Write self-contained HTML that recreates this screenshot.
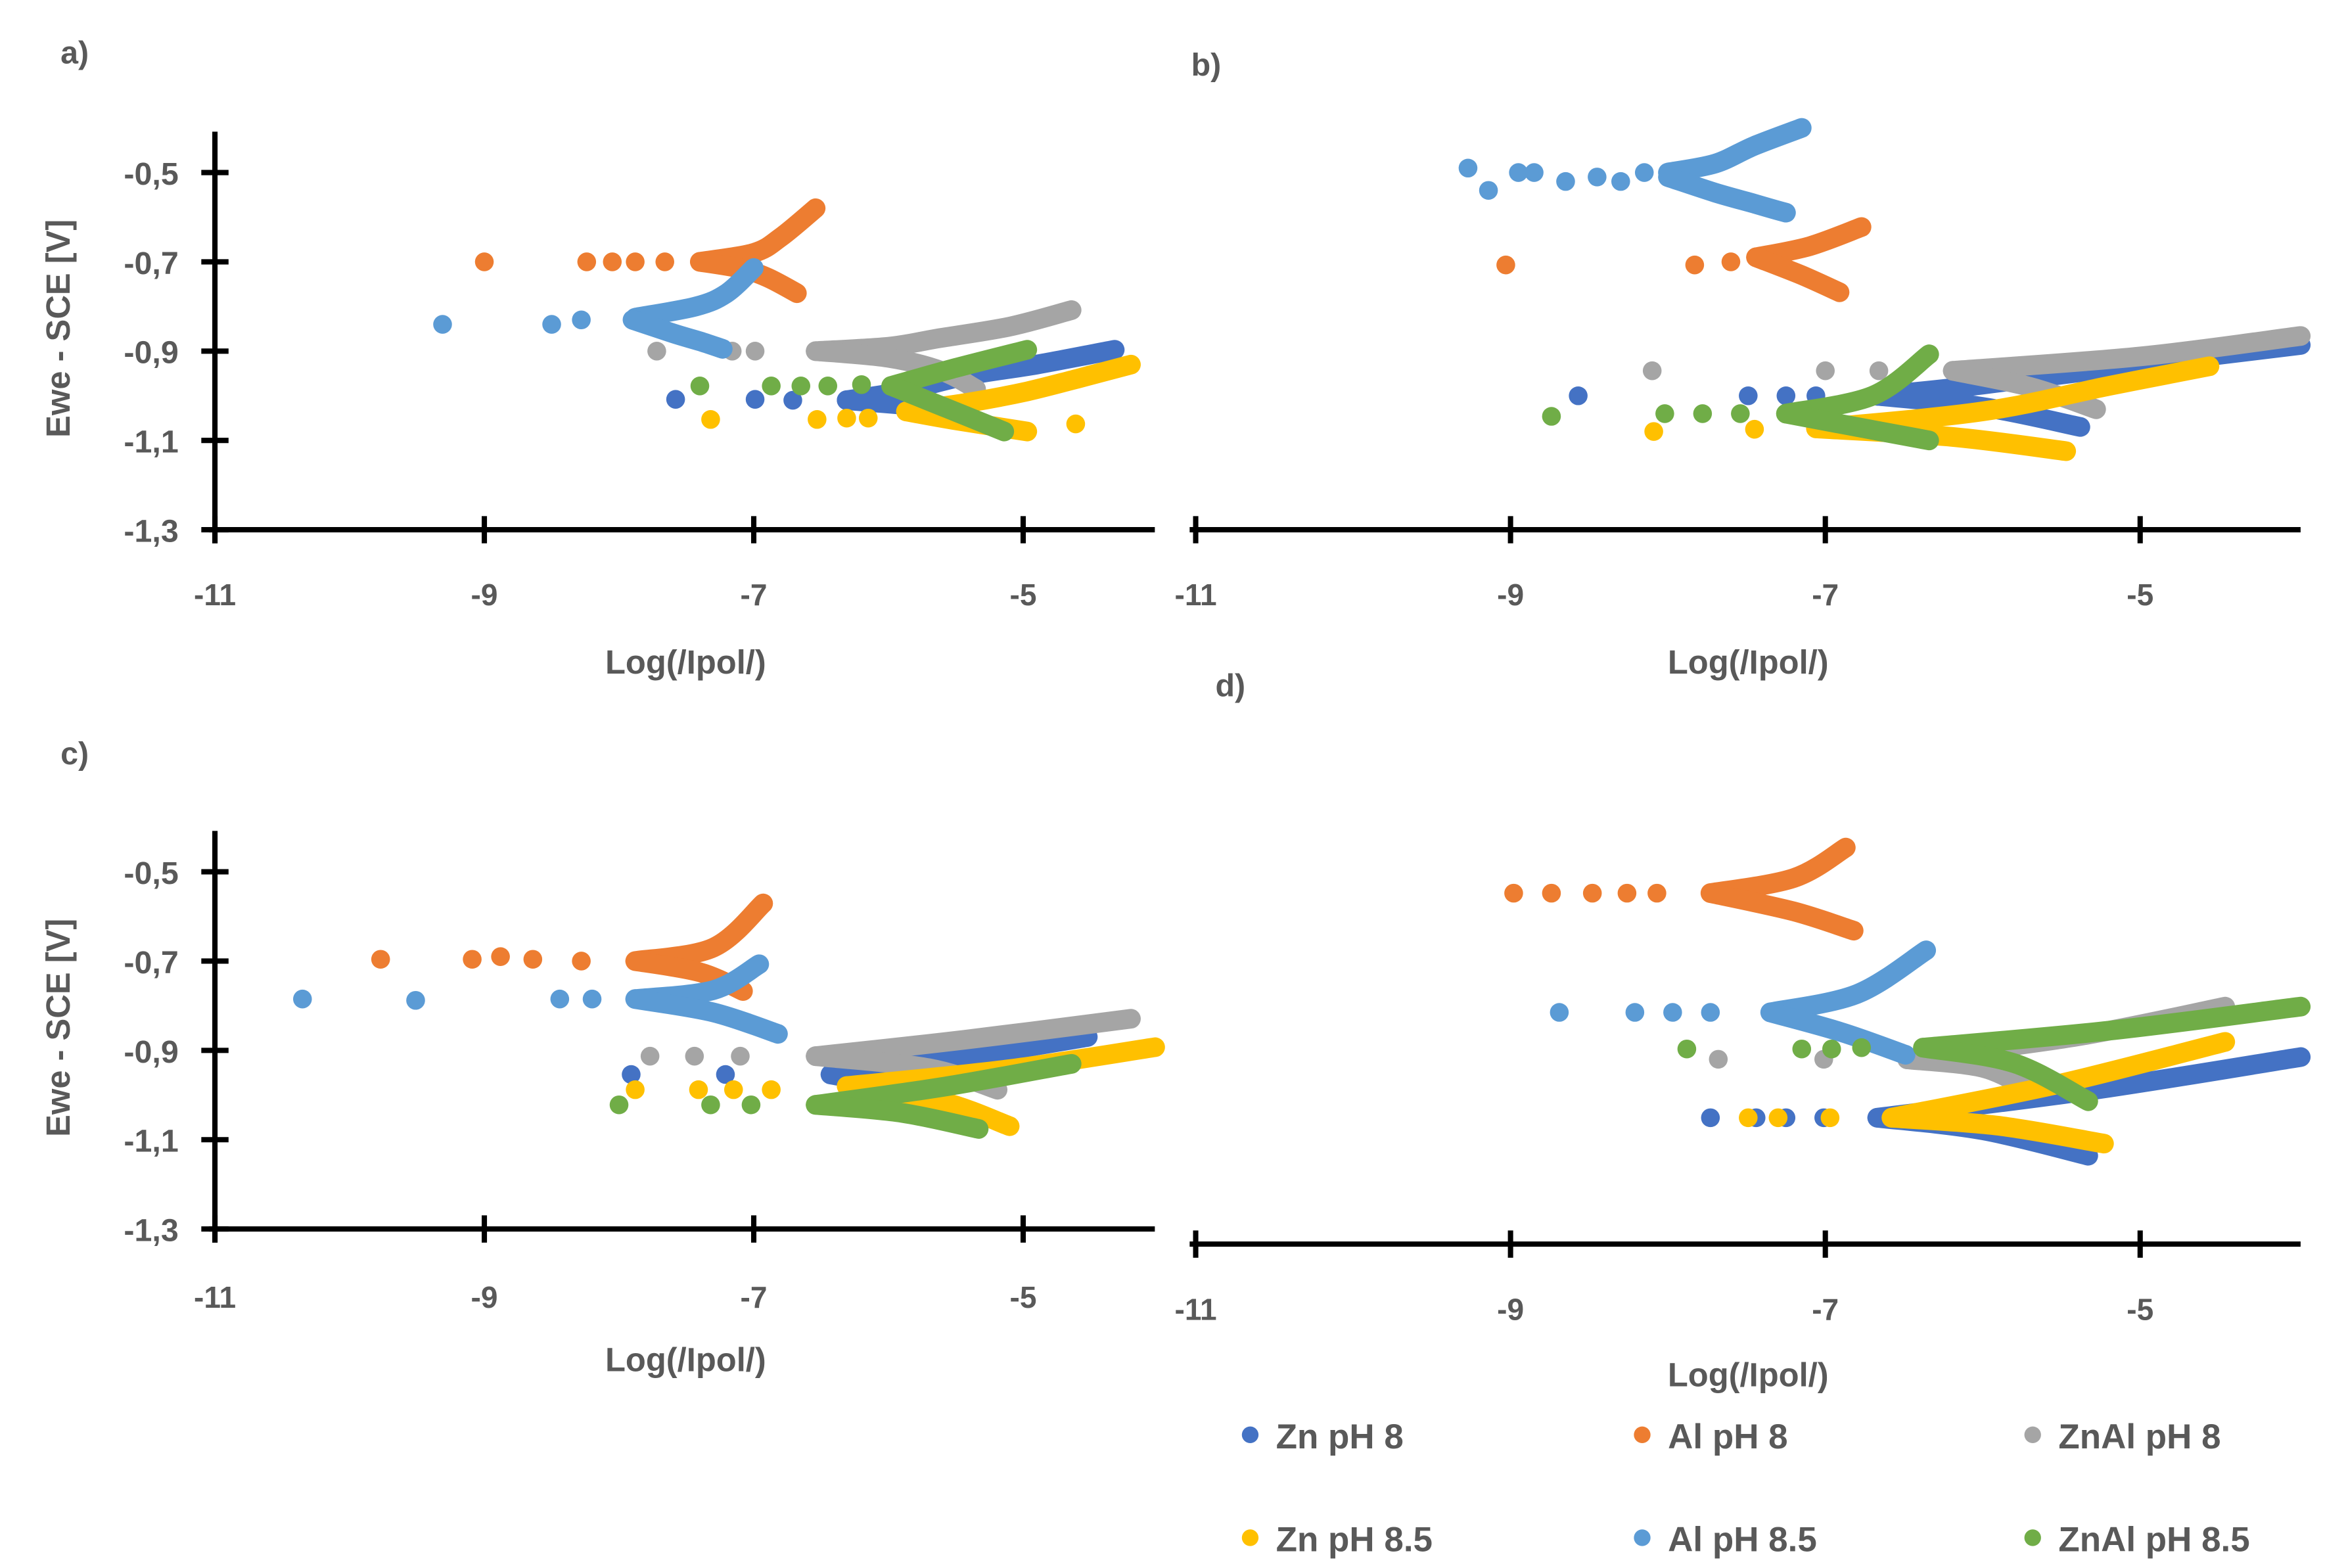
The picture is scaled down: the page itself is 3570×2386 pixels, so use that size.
<!DOCTYPE html>
<html><head><meta charset="utf-8"><style>
html,body{margin:0;padding:0;background:#fff;}
svg{display:block;}
text{font-family:"Liberation Sans",sans-serif;font-weight:bold;fill:#595959;}
</style></head><body>
<svg id="fig" width="3570" height="2386" viewBox="0 0 1550 1036" preserveAspectRatio="none" xmlns="http://www.w3.org/2000/svg">
<g id="axes"></g><g id="marks"></g><g id="legend"></g>
</svg>
<script>
// ---- data: each series = [sparse points, anodic branch, cathodic branch] of [log|I|, E] ----
const xTicks = [-11, -9, -7, -5];
const yTicks = [-0.5, -0.7, -0.9, -1.1, -1.3];
const seriesNames = ["Zn pH 8","Al pH 8","ZnAl pH 8","Zn pH 8.5","Al pH 8.5","ZnAl pH 8.5"];
const seriesColors = ["#4472C4","#ED7D31","#A5A5A5","#FFC000","#5B9BD5","#70AD47"];

const aZn8 = [[[-7.58,-1.008],[-6.99,-1.008],[-6.71,-1.01]],[[-6.31,-1.01],[-5.9,-0.99],[-5.42,-0.955],[-4.9,-0.93],[-4.32,-0.897]],[[-6.31,-1.01],[-5.9,-1.02],[-5.5,-1.03]]];
const aAl8 = [[[-9,-0.70],[-8.24,-0.70],[-8.05,-0.70],[-7.88,-0.70],[-7.66,-0.70]],[[-7.4,-0.70],[-7.0,-0.68],[-6.8,-0.645],[-6.54,-0.58]],[[-7.4,-0.70],[-7.1,-0.715],[-6.9,-0.735],[-6.68,-0.77]]];
const aZnAl8 = [[[-7.72,-0.90],[-7.16,-0.90],[-6.99,-0.90]],[[-6.54,-0.90],[-6.0,-0.89],[-5.64,-0.872],[-5.1,-0.845],[-4.64,-0.808]],[[-6.54,-0.90],[-6.0,-0.915],[-5.6,-0.945],[-5.35,-0.985]]];
const aZn85 = [[[-7.32,-1.053],[-6.53,-1.053],[-6.31,-1.05],[-6.15,-1.05],[-4.61,-1.063]],[[-5.87,-1.035],[-5.4,-1.015],[-4.97,-0.99],[-4.6,-0.962],[-4.2,-0.93]],[[-5.87,-1.035],[-5.5,-1.055],[-4.97,-1.08]]];
const aAl85 = [[[-9.31,-0.84],[-8.5,-0.84],[-8.28,-0.83]],[[-7.88,-0.825],[-7.43,-0.8],[-7.2,-0.77],[-7.0,-0.714]],[[-7.9,-0.83],[-7.6,-0.86],[-7.4,-0.878],[-7.23,-0.895]]];
const aZnAl85 = [[[-7.40,-0.978],[-6.87,-0.978],[-6.65,-0.978],[-6.45,-0.978],[-6.2,-0.975]],[[-5.98,-0.978],[-5.53,-0.94],[-4.97,-0.897]],[[-5.98,-0.978],[-5.59,-1.025],[-5.14,-1.08]]];

const bZn8 = [[[-8.57,-1.0],[-7.49,-1.0],[-7.25,-1.0],[-7.06,-1.0]],[[-6.67,-1.0],[-6.0,-0.975],[-5.0,-0.93],[-3.98,-0.886]],[[-6.67,-1.0],[-6.0,-1.025],[-5.38,-1.07]]];
const bAl8 = [[[-9.03,-0.707],[-7.83,-0.707],[-7.6,-0.70]],[[-7.44,-0.69],[-7.1,-0.665],[-6.77,-0.622]],[[-7.44,-0.69],[-7.15,-0.73],[-6.91,-0.768]]];
const bZnAl8 = [[[-8.10,-0.944],[-7.0,-0.944],[-6.66,-0.944]],[[-6.19,-0.944],[-5.0,-0.912],[-3.98,-0.866]],[[-6.19,-0.944],[-5.7,-0.98],[-5.28,-1.03]]];
const bZn85 = [[[-8.09,-1.08],[-7.45,-1.075]],[[-7.06,-1.073],[-6.0,-1.035],[-5.2,-0.978],[-4.56,-0.934]],[[-7.06,-1.073],[-6.2,-1.092],[-5.47,-1.124]]];
const bAl85 = [[[-9.27,-0.49],[-9.14,-0.54],[-8.95,-0.50],[-8.85,-0.50],[-8.65,-0.52],[-8.45,-0.51],[-8.3,-0.52],[-8.15,-0.50]],[[-8.0,-0.50],[-7.7,-0.48],[-7.45,-0.44],[-7.15,-0.40]],[[-8.0,-0.51],[-7.7,-0.545],[-7.45,-0.57],[-7.25,-0.59]]];
const bZnAl85 = [[[-8.74,-1.046],[-8.02,-1.04],[-7.78,-1.04],[-7.54,-1.04]],[[-7.25,-1.04],[-6.7,-1.0],[-6.34,-0.907]],[[-7.25,-1.04],[-6.8,-1.07],[-6.34,-1.10]]];

const cZn8 = [[[-7.91,-0.954],[-7.21,-0.954]],[[-6.43,-0.954],[-5.5,-0.918],[-4.52,-0.87]],[[-6.43,-0.954],[-5.9,-0.985],[-5.42,-1.04]]];
const cAl8 = [[[-9.77,-0.696],[-9.09,-0.696],[-8.88,-0.69],[-8.64,-0.696],[-8.28,-0.70]],[[-7.88,-0.70],[-7.3,-0.67],[-6.93,-0.571]],[[-7.88,-0.70],[-7.4,-0.725],[-7.08,-0.767]]];
const cZnAl8 = [[[-7.77,-0.913],[-7.44,-0.913],[-7.1,-0.913]],[[-6.54,-0.913],[-5.4,-0.875],[-4.2,-0.829]],[[-6.54,-0.913],[-5.7,-0.94],[-5.19,-0.988]]];
const cZn85 = [[[-7.88,-0.988],[-7.41,-0.988],[-7.15,-0.988],[-6.87,-0.988]],[[-6.31,-0.98],[-5.1,-0.942],[-4.02,-0.893]],[[-6.31,-0.98],[-5.6,-1.015],[-5.1,-1.07]]];
const cAl85 = [[[-10.35,-0.785],[-9.51,-0.788],[-8.44,-0.785],[-8.2,-0.785]],[[-7.88,-0.785],[-7.3,-0.765],[-6.96,-0.707]],[[-7.88,-0.785],[-7.3,-0.815],[-6.82,-0.863]]];
const cZnAl85 = [[[-8.0,-1.022],[-7.32,-1.022],[-7.02,-1.022]],[[-6.54,-1.022],[-5.6,-0.982],[-4.64,-0.93]],[[-6.54,-1.022],[-5.9,-1.04],[-5.33,-1.076]]];

const dZn8 = [[[-7.73,-1.017],[-7.44,-1.017],[-7.25,-1.017],[-7.01,-1.017]],[[-6.67,-1.017],[-5.3,-0.955],[-3.98,-0.881]],[[-6.67,-1.017],[-6.0,-1.045],[-5.33,-1.102]]];
const dAl8 = [[[-8.98,-0.514],[-8.74,-0.514],[-8.48,-0.514],[-8.26,-0.514],[-8.07,-0.514]],[[-7.73,-0.514],[-7.2,-0.48],[-6.87,-0.412]],[[-7.73,-0.514],[-7.2,-0.555],[-6.82,-0.598]]];
const dZnAl8 = [[[-7.68,-0.886],[-7.01,-0.886]],[[-6.48,-0.886],[-5.4,-0.835],[-4.46,-0.768]],[[-6.48,-0.886],[-6.0,-0.905],[-5.71,-0.953]]];
const dZn85 = [[[-7.49,-1.017],[-7.30,-1.017],[-6.97,-1.017]],[[-6.58,-1.017],[-5.5,-0.94],[-4.46,-0.847]],[[-6.58,-1.017],[-5.9,-1.035],[-5.23,-1.075]]];
const dAl85 = [[[-8.69,-0.781],[-8.21,-0.781],[-7.97,-0.781],[-7.73,-0.781]],[[-7.35,-0.781],[-6.8,-0.74],[-6.36,-0.642]],[[-7.35,-0.781],[-6.9,-0.825],[-6.49,-0.876]]];
const dZnAl8_5 = [[[-7.88,-0.863],[-7.15,-0.863],[-6.96,-0.863],[-6.77,-0.86]],[[-6.38,-0.86],[-5.2,-0.822],[-3.98,-0.768]],[[-6.38,-0.86],[-5.8,-0.895],[-5.33,-0.98]]];

const NS = "http://www.w3.org/2000/svg";
const axesG = document.getElementById('axes');
const marksG = document.getElementById('marks');
const legendG = document.getElementById('legend');
function mk(tag, attrs, parent){const e=document.createElementNS(NS,tag);for(const k in attrs)e.setAttribute(k,attrs[k]);parent.appendChild(e);return e;}
function smooth(pts){
  if(pts.length<3) return pts.map((p,k)=>(k?'L':'M')+p[0].toFixed(1)+' '+p[1].toFixed(1)).join(' ');
  let d='M'+pts[0][0].toFixed(1)+' '+pts[0][1].toFixed(1);
  for(let i=0;i<pts.length-1;i++){
    const p0=pts[i-1]||pts[i], p1=pts[i], p2=pts[i+1], p3=pts[i+2]||p2;
    const c1=[p1[0]+(p2[0]-p0[0])/6, p1[1]+(p2[1]-p0[1])/6];
    const c2=[p2[0]-(p3[0]-p1[0])/6, p2[1]-(p3[1]-p1[1])/6];
    d+=' C'+c1[0].toFixed(1)+' '+c1[1].toFixed(1)+' '+c2[0].toFixed(1)+' '+c2[1].toFixed(1)+' '+p2[0].toFixed(1)+' '+p2[1].toFixed(1);
  }
  return d;
}

const panels = [
  {id:'a', x0:142, ux:89.0, y05:114, ax:350, yAxis:true, xEnd:763, series:[aZn8,aAl8,aZnAl8,aZn85,aAl85,aZnAl85], lbl:[40,42], lblY:392, titleX:453, titleY:445},
  {id:'b', x0:790, ux:104, y05:114, ax:350, yAxis:false, xEnd:1520, series:[bZn8,bAl8,bZnAl8,bZn85,bAl85,bZnAl85], lbl:[787,50], lblY:392, titleX:1155, titleY:445},
  {id:'c', x0:142, ux:89.0, y05:576, ax:812, yAxis:true, xEnd:763, series:[cZn8,cAl8,cZnAl8,cZn85,cAl85,cZnAl85], lbl:[40,505], lblY:856, titleX:453, titleY:906},
  {id:'d', x0:790, ux:104, y05:586, ax:822, yAxis:false, xEnd:1520, series:[dZn8,dAl8,dZnAl8,dZn85,dAl85,dZnAl8_5], lbl:[803,460], lblY:864, titleX:1155, titleY:916}
];

panels.forEach(p=>{
  const X = v => p.x0 + (v+11)*p.ux;
  const Y = v => p.y05 + (-0.5 - v)*295;
  const g = mk('g',{},axesG);
  
  
  const lab = mk('text',{x:p.lbl[0],y:p.lbl[1],'font-size':21},g);
  lab.textContent = p.id+')';
  
  
  const xa = mk('line',{x1:p.x0-4,y1:p.ax,x2:p.xEnd,y2:p.ax,stroke:'#000','stroke-width':3.5},g);
  
  
  xTicks.forEach(t=>{
    mk('line',{x1:X(t),y1:p.ax-9,x2:X(t),y2:p.ax+9,stroke:'#000','stroke-width':3.5},g);
    const tl = mk('text',{x:X(t),y:p.lblY+8,'font-size':20,'text-anchor':'middle','font-weight':'normal'},g);
    tl.textContent = String(t);
    
    
  });
  const xt = mk('text',{x:p.titleX,y:p.titleY,'font-size':22,'text-anchor':'middle'},g);
  xt.textContent = 'Log(/Ipol/)';
  
  
  if(p.yAxis){
    const ya = mk('line',{x1:p.x0,y1:p.ax-263,x2:p.x0,y2:p.ax+9,stroke:'#000','stroke-width':3.5},g);
    
    
    yTicks.forEach(t=>{
      mk('line',{x1:p.x0-9,y1:Y(t),x2:p.x0+9,y2:Y(t),stroke:'#000','stroke-width':3.5},g);
      const tl = mk('text',{x:p.x0-24,y:Y(t)+8,'font-size':21,'text-anchor':'end'},g);
      tl.textContent = t.toFixed(1).replace('.',',');
      
      
    });
    const cy = p.ax-133;
    const yt = mk('text',{x:46,y:cy,'font-size':22,'text-anchor':'middle',transform:'rotate(-90 46 '+cy+')'},g);
    yt.textContent = 'Ewe - SCE [V]';
    
    
  }
  p.series.forEach((s,i)=>{
    const sg = mk('g',{fill:seriesColors[i],stroke:seriesColors[i]},marksG);
    
    
    [s[1],s[2]].forEach(br=>{
      const pts = br.map(pt=>[X(pt[0]),Y(pt[1])]);
      const pa = mk('path',{d:smooth(pts),fill:'none','stroke-width':13,'stroke-linecap':'round','stroke-linejoin':'round'},sg);
      
      
    });
    s[0].forEach(pt=>{
      const c = mk('circle',{cx:X(pt[0]),cy:Y(pt[1]),r:6.2,stroke:'none'},sg);
      
      
    });
  });
});

const legX = [826, 1085, 1343];
const legY = [948, 1016];
seriesNames.forEach((n,i)=>{
  const g = mk('g',{},legendG);
  
  
  const x = legX[i%3], y = legY[Math.floor(i/3)];
  mk('circle',{cx:x,cy:y,r:5.5,fill:seriesColors[i]},g);
  const t = mk('text',{x:x+17,y:y+9,'font-size':23},g);
  t.textContent = n;
});
</script>
</body></html>
